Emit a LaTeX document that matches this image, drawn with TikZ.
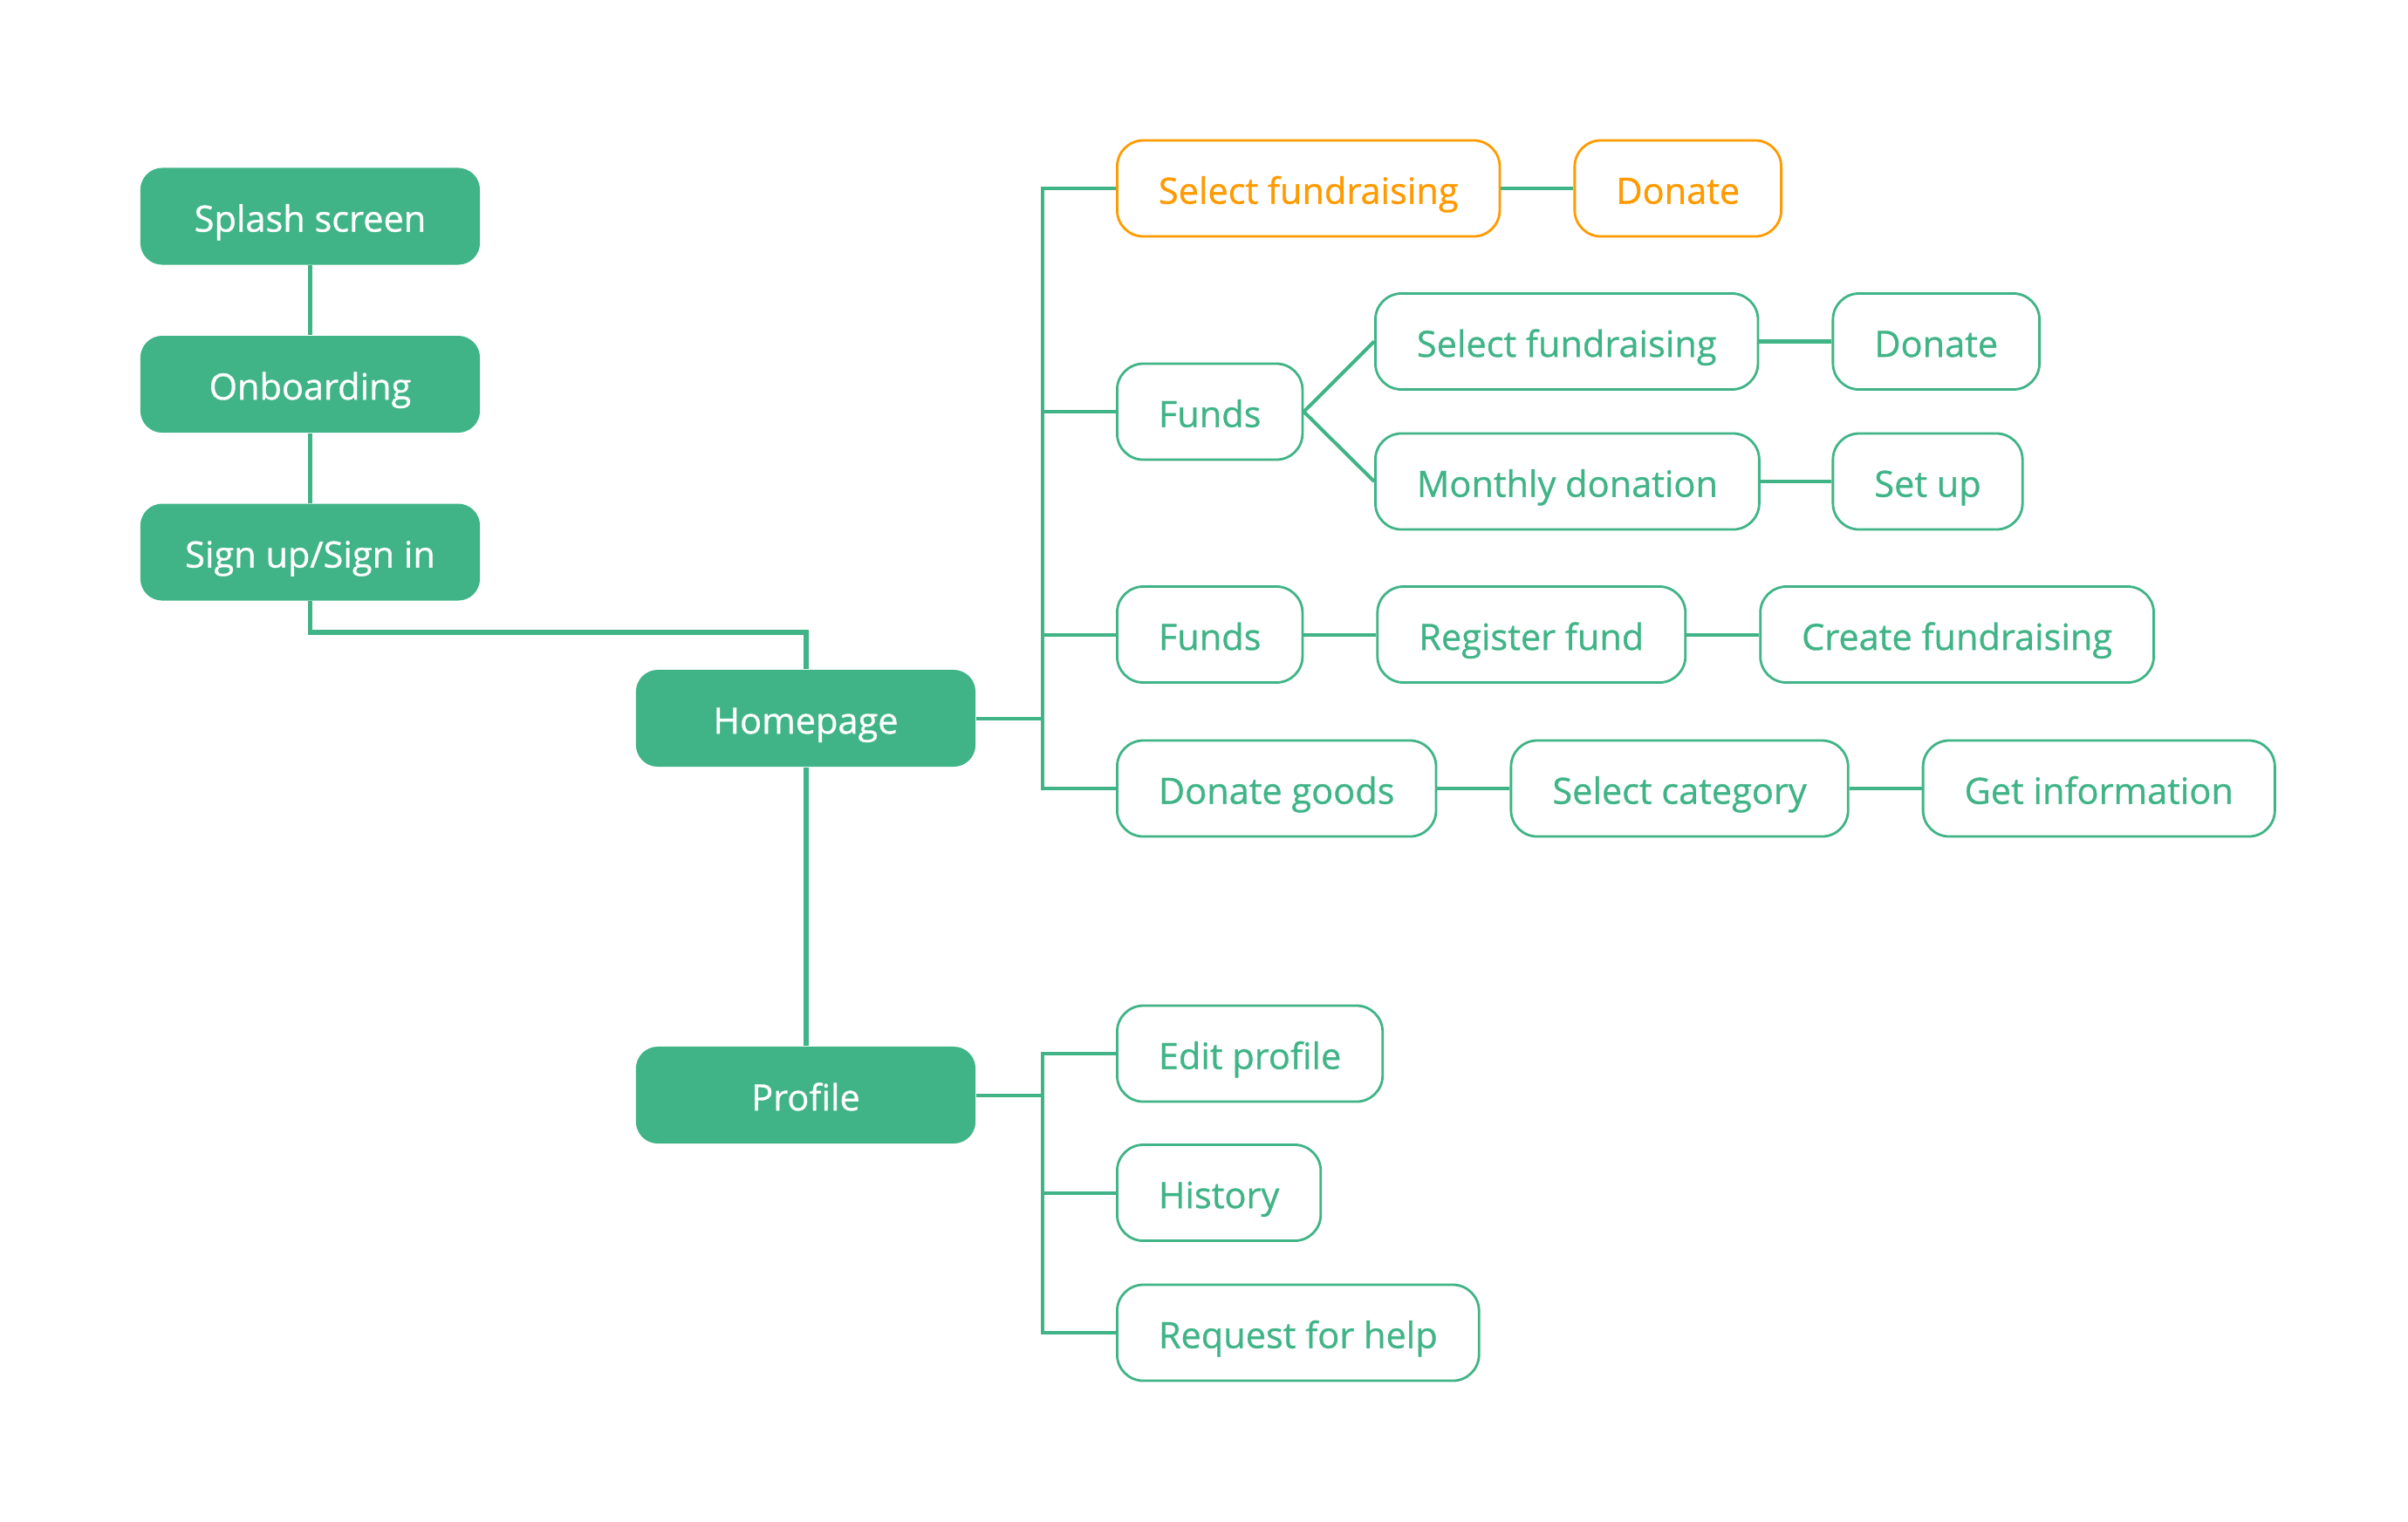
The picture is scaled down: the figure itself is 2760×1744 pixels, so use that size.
\documentclass[tikz,border=0pt]{standalone}
\usepackage{fontspec}
\setmainfont{Open Sans}[FakeBold=0.8]
\usetikzlibrary{positioning}
\definecolor{mint}{HTML}{40B486}
\definecolor{amber}{HTML}{FF9A00}
\tikzset{
    %Define style for filled screens
    screen/.style={
           rectangle,
           rounded corners=0.25cm,
           fill=mint,
           text=white,
           minimum width=3.89cm,
           minimum height=1.11cm,
           text height=11pt,
           text depth=1pt,
           font=\fontsize{11.8}{13}\selectfont,
           text centered},
    %Define style for outlined sub screens
    subscreen/.style={
           rectangle,
           rounded corners=0.3cm,
           draw=mint, line width=0.8pt,
           text=mint,
           inner xsep=13.5pt,
           minimum height=1.1cm,
           text height=11pt,
           text depth=1pt,
           font=\fontsize{11.8}{13}\selectfont,
           text centered},
    donatepath/.style={
           subscreen,
           draw=amber,
           text=amber},
    % Define line styles
    link/.style={
           draw=mint,
           line width=1.7pt},
    branch/.style={
           draw=mint,
           line width=1.15pt}
}
\begin{document}
\begin{tikzpicture}[x=0.01cm,y=-0.01cm,node distance=0.8cm]
\useasboundingbox (0,0) rectangle (2760,1744);
% main flow
\node[screen] (1) at (355.5,248) {Splash screen};
\node[screen, below=of 1] (2) {Onboarding};
\node[screen, below=of 2] (3) {Sign up/Sign in};
\node[screen] (4) at (923.5,823.5) {Homepage};
\node[screen] (5) at (923.5,1255.5) {Profile};
% homepage branches
\node[donatepath, anchor=west] (6) at (1279,216) {Select fundraising};
\node[donatepath, right=0.83cm of 6] (7) {Donate};
\node[subscreen, anchor=west] (8) at (1279,472) {Funds};
\node[subscreen, anchor=west] (9) at (1575,391.5) {Select fundraising};
\node[subscreen, right=0.83cm of 9] (10) {Donate};
\node[subscreen, anchor=west] (11) at (1575,552) {Monthly donation};
\node[subscreen, anchor=west] (12) at (10.west |- 11) {Set up};
\node[subscreen, anchor=west] (13) at (1279,727.5) {Funds};
\node[subscreen, right=0.83cm of 13] (14) {Register fund};
\node[subscreen, right=0.83cm of 14] (15) {Create fundraising};
\node[subscreen, anchor=west] (16) at (1279,904) {Donate goods};
\node[subscreen, right=0.83cm of 16] (17) {Select category};
\node[subscreen, right=0.83cm of 17] (18) {Get information};
% profile branches
\node[subscreen, anchor=west] (19) at (1279,1208) {Edit profile};
\node[subscreen, anchor=west] (20) at (1279,1367.5) {History};
\node[subscreen, anchor=west] (21) at (1279,1528) {Request for help};
\coordinate (hb) at (1195,0);
% connectors
\draw[link] (1) -- (2);
\draw[link] (2) -- (3);
\draw[link] (3.south) -- ++(0,36) -| (4.north);
\draw[link] (4) -- (5);
\draw[branch] (6.west) -| (hb |- 16.west) -- (16.west);
\draw[branch] (4.east) -- (4.east -| hb);
\draw[branch] (8.west) -- (8.west -| hb);
\draw[branch] (13.west) -- (13.west -| hb);
\draw[branch] (6) -- (7);
\draw[branch] (8.east) -- (9.west);
\draw[branch] (8.east) -- (11.west);
\draw[branch] (9) -- (10);
\draw[branch] (11) -- (12);
\draw[branch] (13) -- (14);
\draw[branch] (14) -- (15);
\draw[branch] (16) -- (17);
\draw[branch] (17) -- (18);
\draw[branch] (19.west) -| (hb |- 21.west) -- (21.west);
\draw[branch] (5.east) -- (5.east -| hb);
\draw[branch] (20.west) -- (20.west -| hb);
\end{tikzpicture}
\end{document}
